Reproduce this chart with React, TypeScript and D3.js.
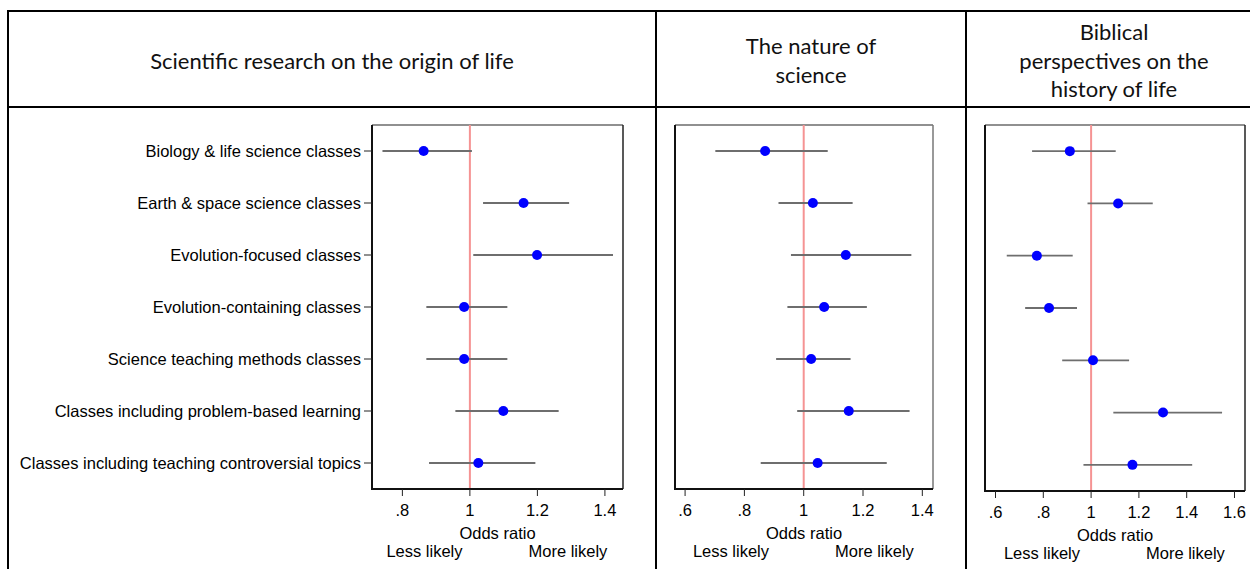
import * as d3 from 'd3';

const categories = [
  'Biology & life science classes',
  'Earth & space science classes',
  'Evolution-focused classes',
  'Evolution-containing classes',
  'Science teaching methods classes',
  'Classes including problem-based learning',
  'Classes including teaching controversial topics',
];

// odds ratio estimates and 95% CI
const originOR = [0.863, 1.159, 1.199, 0.983, 0.983, 1.099, 1.025];
const originLow = [0.741, 1.039, 1.01, 0.871, 0.871, 0.957, 0.879];
const originHigh = [1.006, 1.294, 1.424, 1.111, 1.111, 1.263, 1.194];

const natureOR = [0.87, 1.031, 1.142, 1.069, 1.025, 1.152, 1.047];
const natureLow = [0.702, 0.915, 0.957, 0.945, 0.907, 0.978, 0.855];
const natureHigh = [1.081, 1.165, 1.363, 1.213, 1.158, 1.357, 1.28];

const biblicalOR = [0.911, 1.113, 0.773, 0.824, 1.008, 1.301, 1.173];
const biblicalLow = [0.753, 0.985, 0.647, 0.724, 0.879, 1.093, 0.968];
const biblicalHigh = [1.103, 1.258, 0.923, 0.941, 1.159, 1.548, 1.423];

const originTicks = [0.8, 1, 1.2, 1.4];
const natureTicks = [0.6, 0.8, 1, 1.2, 1.4];
const biblicalTicks = [0.6, 0.8, 1, 1.2, 1.4, 1.6];

const titles = [
  ['Scientific research on the origin of life'],
  ['The nature of', 'science'],
  ['Biblical', 'perspectives on the', 'history of life'],
];

const fmtTick = (v: number) => (v === 1 ? '1' : String(v).replace(/^0/, ''));

interface PanelProps {
  or: number[];
  low: number[];
  high: number[];
  ticks: number[];
  domain: [number, number];
  left: number;
  right: number;
  top: number;
  bottom: number;
  showLabels?: boolean;
  rightColor?: string;
}

const labelFont = "'Liberation Sans', Arial, sans-serif";

function Panel({ or, low, high, ticks, domain, left, right, top, bottom, showLabels, rightColor = '#222' }: PanelProps) {
  const x = d3.scaleLinear().domain(domain).range([left, right]);
  const y = d3.scaleBand<string>().domain(categories).range([top, bottom]);
  const yc = (c: string) => (y(c) ?? 0) + y.bandwidth() / 2;
  const mid = (left + right) / 2;

  return (
    <g fontFamily={labelFont} fontSize={16.5} fill="#000">
      <line x1={left} x2={right} y1={top} y2={top} stroke="#222" strokeWidth={1.2} />
      <line x1={right} x2={right} y1={top} y2={bottom} stroke={rightColor} strokeWidth={1.5} />
      <line x1={x(1)} x2={x(1)} y1={top} y2={bottom} stroke="#f59393" strokeWidth={2} />
      {categories.map((c, i) => (
        <g key={c}>
          <line x1={x(low[i])} x2={x(high[i])} y1={yc(c)} y2={yc(c)} stroke="#6e6e6e" strokeWidth={1.8} />
          <circle cx={x(or[i])} cy={yc(c)} r={5} fill="#0000ff" />
        </g>
      ))}
      <line x1={left} x2={left} y1={top} y2={bottom + 1} stroke="#111" strokeWidth={2} />
      <line x1={left} x2={right} y1={bottom} y2={bottom} stroke="#111" strokeWidth={2} />
      {showLabels &&
        categories.map((c) => (
          <g key={c}>
            <line x1={left - 8} x2={left} y1={yc(c)} y2={yc(c)} stroke="#222" strokeWidth={1} />
            <text x={left - 11} y={yc(c)} dy="0.35em" textAnchor="end">
              {c}
            </text>
          </g>
        ))}
      {ticks.map((t) => (
        <g key={t}>
          <line x1={x(t)} x2={x(t)} y1={bottom} y2={bottom + 7} stroke="#222" strokeWidth={1} />
          <text x={x(t)} y={bottom + 27} textAnchor="middle">
            {fmtTick(t)}
          </text>
        </g>
      ))}
      <text x={mid} y={bottom + 50} textAnchor="middle">Odds ratio</text>
      <text x={mid - 35} y={bottom + 68} textAnchor="end">Less likely</text>
      <text x={mid + 31} y={bottom + 68} textAnchor="start">More likely</text>
    </g>
  );
}

export default function App() {
  const W = 1250;
  const H = 569;
  const colX = [8, 656, 966, 1262];
  const headerTop = 11;
  const headerBottom = 107;

  return (
    <svg width={W} height={H} style={{ position: 'absolute', left: 0, top: 0, background: '#fff' }}>
      <rect width={W} height={H} fill="#fff" />
      {/* table grid */}
      <line x1={colX[0]} x2={W} y1={headerTop} y2={headerTop} stroke="#000" strokeWidth={2} />
      <line x1={colX[0]} x2={W} y1={headerBottom} y2={headerBottom} stroke="#000" strokeWidth={2} />
      {colX.slice(0, 3).map((cx) => (
        <line key={cx} x1={cx} x2={cx} y1={headerTop - 1} y2={H} stroke="#000" strokeWidth={2} />
      ))}
      {titles.map((lines, i) => {
        const cx = (colX[i] + colX[i + 1]) / 2;
        const cy = (headerTop + headerBottom) / 2 + 2;
        const lh = 28.5;
        return (
          <text key={i} x={cx} textAnchor="middle" fontFamily="Lato, 'Open Sans', sans-serif" fontSize={22} fill="#111">
            {lines.map((l, j) => (
              <tspan key={j} x={cx} y={cy + (j - (lines.length - 1) / 2) * lh} dy="0.35em">
                {l}
              </tspan>
            ))}
          </text>
        );
      })}
      <Panel
        or={originOR}
        low={originLow}
        high={originHigh}
        ticks={originTicks}
        domain={[0.71, 1.4536]}
        left={372}
        right={623}
        top={125}
        bottom={489}
        showLabels
      />
      <Panel
        or={natureOR}
        low={natureLow}
        high={natureHigh}
        ticks={natureTicks}
        domain={[0.566, 1.436]}
        left={675}
        right={933}
        top={125}
        bottom={489}
        rightColor="#777"
      />
      <Panel
        or={biblicalOR}
        low={biblicalLow}
        high={biblicalHigh}
        ticks={biblicalTicks}
        domain={[0.556, 1.644]}
        left={985}
        right={1245}
        top={125}
        bottom={491}
      />
    </svg>
  );
}
